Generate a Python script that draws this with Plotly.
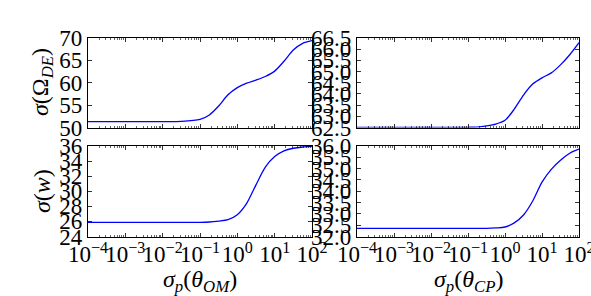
import plotly.graph_objects as go

# shared sigma_p sample positions (log-spaced, quarter decades)
sigma_p = [1e-4, 1e-3, 1e-2, 0.0316, 0.1, 0.178, 0.316, 0.562, 1.0, 1.78,
           3.16, 5.62, 10.0, 17.8, 31.6, 56.2, 100.0]

# top-left: sigma(Omega_DE) vs sigma_p(theta_OM)
om_omega = [51.3, 51.3, 51.3, 51.35, 51.8, 52.8, 54.8, 57.3, 58.9, 59.9,
            60.6, 61.4, 62.6, 64.8, 67.3, 68.8, 69.4]
# top-right: sigma(Omega_DE) vs sigma_p(theta_CP)
cp_omega = [62.51, 62.51, 62.51, 62.51, 62.51, 62.52, 62.57, 62.65, 62.82,
            63.32, 63.95, 64.44, 64.72, 64.94, 65.3, 65.75, 66.29]
# bottom-left: sigma(w) vs sigma_p(theta_OM)
om_w = [25.88, 25.88, 25.88, 25.88, 25.88, 25.92, 26.05, 26.25, 26.9, 28.4,
        30.85, 33.2, 34.6, 35.35, 35.7, 35.87, 35.95]
# bottom-right: sigma(w) vs sigma_p(theta_CP)
cp_w = [32.36, 32.36, 32.36, 32.36, 32.36, 32.36, 32.36, 32.38, 32.42, 32.6,
        32.95, 33.57, 34.4, 34.97, 35.37, 35.68, 35.86]

x_tickvals = [1e-4, 1e-3, 1e-2, 1e-1, 1e0, 1e1, 1e2]
x_ticktext = ["10<sup>\u22124</sup>", "10<sup>\u22123</sup>", "10<sup>\u22122</sup>",
              "10<sup>\u22121</sup>", "10<sup>0</sup>", "10<sup>1</sup>", "10<sup>2</sup>"]
minor_vals = [m * 10 ** e for e in range(-4, 2) for m in range(2, 10)]

yticks_tl = [50, 55, 60, 65, 70]
yticks_tr = [62.5, 63.0, 63.5, 64.0, 64.5, 65.0, 65.5, 66.0, 66.5]
yticks_bl = [24, 26, 28, 30, 32, 34, 36]
yticks_br = [32.0, 32.5, 33.0, 33.5, 34.0, 34.5, 35.0, 35.5, 36.0]

W, H = 591, 296
FONT = "'Liberation Serif', 'DejaVu Serif', serif"
TICKSIZE = 23

def px_x(a, b):
    return [a / W, b / W]

def px_y(top, bottom):
    return [1 - bottom / H, 1 - top / H]

fig = go.Figure()
line = dict(color="#0000ff", width=1.3, shape="spline", smoothing=0.8)
panels = [
    ("x", "y", om_omega), ("x2", "y2", cp_omega),
    ("x3", "y3", om_w), ("x4", "y4", cp_w),
]
for xa, ya, vals in panels:
    fig.add_trace(go.Scatter(x=sigma_p, y=vals, mode="lines", line=line,
                             xaxis=xa, yaxis=ya, showlegend=False, hoverinfo="skip"))

common = dict(showline=True, linecolor="black", linewidth=1.2, mirror="allticks",
              ticks="inside", tickcolor="black", ticklen=4, tickwidth=0.8,
              showgrid=False, zeroline=False, automargin=False,
              ticklabeloverflow="allow",
              tickfont=dict(family=FONT, size=TICKSIZE, color="black"))

def xaxis(domain, anchor, labels):
    return dict(common, type="log", range=[-4, 2], domain=domain, anchor=anchor,
                tickmode="array", tickvals=x_tickvals, ticktext=x_ticktext,
                showticklabels=labels, tickangle=0, ticklabelstandoff=-3,
                minor=dict(tickmode="array", tickvals=minor_vals, ticks="inside",
                           ticklen=2, tickcolor="black", tickwidth=0.6, showgrid=False))

def yaxis(domain, anchor, vals, rng, fmt):
    return dict(common, domain=domain, anchor=anchor, range=rng,
                tickmode="array", tickvals=vals, tickformat=fmt)

dl, dr = px_x(88, 312), px_x(357, 579)
dt, db = px_y(38, 127.5), px_y(146, 236.5)

fig.update_layout(
    template="none",
    width=W, height=H, margin=dict(l=0, r=0, t=0, b=0, autoexpand=False),
    paper_bgcolor="white", plot_bgcolor="white",
    font=dict(family=FONT, color="black"),
    xaxis=xaxis(dl, "y", False),
    yaxis=yaxis(dt, "x", yticks_tl, [50, 70], "d"),
    xaxis2=xaxis(dr, "y2", False),
    yaxis2=yaxis(dt, "x2", yticks_tr, [62.5, 66.5], ".1f"),
    xaxis3=xaxis(dl, "y3", True),
    yaxis3=yaxis(db, "x3", yticks_bl, [24, 36], "d"),
    xaxis4=xaxis(dr, "y4", True),
    yaxis4=yaxis(db, "x4", yticks_br, [32, 36], ".1f"),
)

title_font = dict(family=FONT, size=24, color="black")
annos = [
    dict(x=200 / W, y=1 - 281 / H, text="<i>\u03c3</i><sub><i>p</i></sub>(<i>\u03b8</i><sub><i>OM</i></sub>)", textangle=0),
    dict(x=468 / W, y=1 - 281 / H, text="<i>\u03c3</i><sub><i>p</i></sub>(<i>\u03b8</i><sub><i>CP</i></sub>)", textangle=0),
    dict(x=42 / W, y=1 - 82 / H, text="<i>\u03c3</i>(\u03a9<sub><i>DE</i></sub>)", textangle=-90),
    dict(x=42 / W, y=1 - 191 / H, text="<i>\u03c3</i>(<i>w</i>)", textangle=-90),
]
for a in annos:
    fig.add_annotation(xref="paper", yref="paper", showarrow=False,
                       xanchor="center", yanchor="middle", font=title_font, **a)

fig.write_html("out.html", config={"displayModeBar": False, "staticPlot": True},
               post_script="document.body.style.margin='0';document.body.style.padding='0';")
